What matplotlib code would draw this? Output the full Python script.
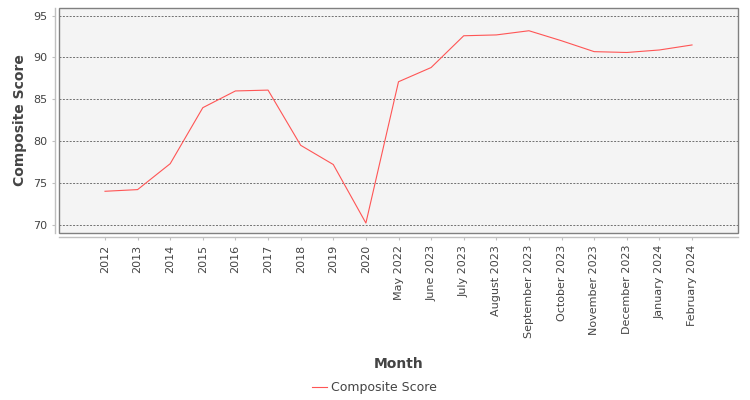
import matplotlib
matplotlib.use("Agg")
import matplotlib.pyplot as plt
from matplotlib.patches import Rectangle

categories = ["2012", "2013", "2014", "2015", "2016", "2017", "2018", "2019", "2020",
              "May 2022", "June 2023", "July 2023", "August 2023", "September 2023",
              "October 2023", "November 2023", "December 2023", "January 2024", "February 2024"]
scores = [74.0, 74.2, 77.3, 84.0, 86.0, 86.1, 79.5, 77.2, 70.2,
          87.1, 88.8, 92.6, 92.7, 93.2, 92.0, 90.7, 90.6, 90.9, 91.5]
series_name = "Composite Score"
y_ticks = [70, 75, 80, 85, 90, 95]

plt.rcParams['font.family'] = ['DejaVu Sans']

W, H = 750, 400
fig = plt.figure(figsize=(7.5, 4.0), dpi=100)
L, R, T, B = 59, 738, 8, 233
ax = fig.add_axes([L / W, 1 - B / H, (R - L) / W, (B - T) / H])
ax.set_facecolor('#f4f4f4')

x = list(range(len(categories)))
ax.plot(x, scores, color='#ff5555', linewidth=0.8, label=series_name)

ax.set_xlim(-1.41, len(categories) - 1 + 1.41)
ax.set_ylim(69.01, 95.92)
ax.set_yticks(y_ticks)
ax.set_yticklabels([str(v) for v in y_ticks])
ax.set_xticks(x)
ax.set_xticklabels(categories)

for v in y_ticks:
    ax.axhline(v, color='#707070', linewidth=0.7, linestyle=(0, (2, 1.5)), zorder=1)

for s in ['top', 'right']:
    ax.spines[s].set_visible(False)
for s in ['left', 'bottom']:
    ax.spines[s].set_position(('outward', 3))
    ax.spines[s].set_color('#c0c0c0')
    ax.spines[s].set_linewidth(1.0)
ax.add_patch(Rectangle((0, 0), 1, 1, transform=ax.transAxes, fill=False,
                       edgecolor='#808080', linewidth=1.0, clip_on=False, zorder=5))

ax.tick_params(axis='both', colors='#c0c0c0', labelcolor='#444444', labelsize=8,
               length=2.5, width=0.8)
ax.tick_params(axis='y', pad=3)
ax.tick_params(axis='x', pad=3, labelrotation=90)

fig.text((L + R) / 2 / W, 1 - 364 / H, "Month", ha='center', va='center',
         fontsize=10, fontweight='bold', color='#444444')
fig.text(20 / W, 1 - (T + B) / 2 / H, "Composite Score", ha='center', va='center',
         rotation=90, fontsize=10, fontweight='bold', color='#444444')

leg = fig.legend(loc='center', bbox_to_anchor=(0.499, 1 - 388 / H), frameon=False,
                 fontsize=9, handlelength=1.2, handletextpad=0.35)
for t in leg.get_texts():
    t.set_color('#444444')

fig.savefig("out.png", dpi=100)
